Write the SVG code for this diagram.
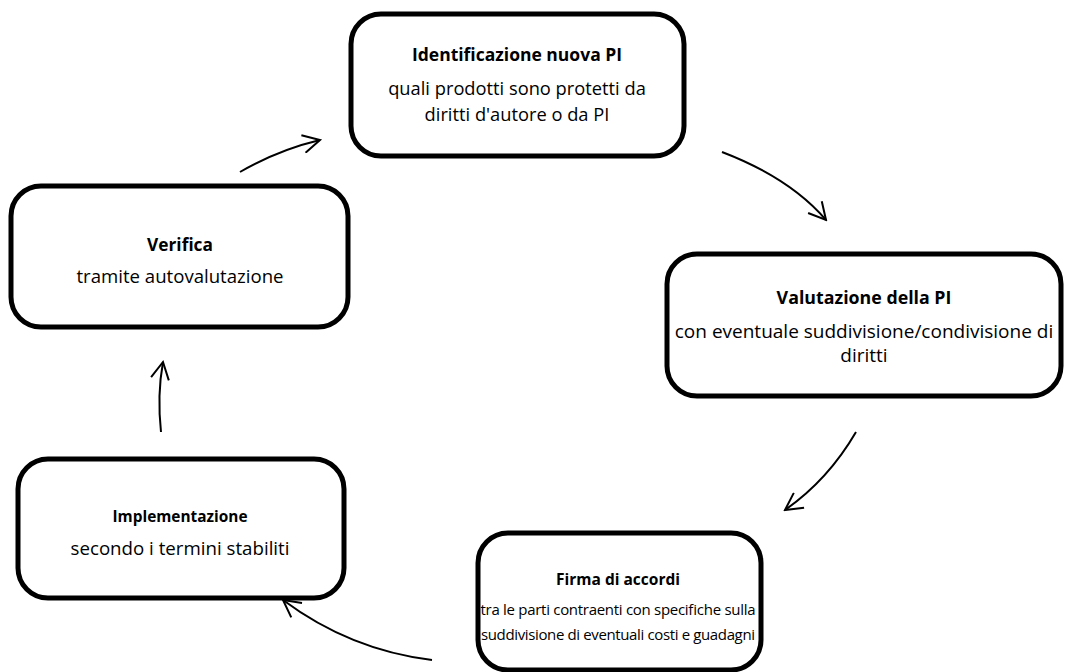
<svg xmlns="http://www.w3.org/2000/svg" width="1065" height="672" viewBox="0 0 1065 672">
<defs>
<style>
.box{fill:#fff;stroke:#000;stroke-width:5}
.t{font-family:"Open Sans",Lato,sans-serif;fill:#000;text-anchor:middle}
.b{font-weight:bold}
.c{fill:none;stroke:#000;stroke-width:2}
</style>
<marker id="ah" viewBox="0 0 20 20" refX="18" refY="10" markerWidth="20" markerHeight="20" markerUnits="userSpaceOnUse" orient="auto">
<path d="M1,1 L18,10 L1,19" fill="none" stroke="#000" stroke-width="2"/>
</marker>
</defs>
<rect width="1065" height="672" fill="#fff"/>
<g id="connectors">
<path class="c" d="M240,172 Q278,150 320,140" marker-end="url(#ah)"/>
<path class="c" d="M722,152 Q790,178 826,220" marker-end="url(#ah)"/>
<path class="c" d="M856,432 Q828,480 785,510" marker-end="url(#ah)"/>
<path class="c" d="M432,660 Q350,650 283,600" marker-end="url(#ah)"/>
<path class="c" d="M161,432 Q157,395 163,362" marker-end="url(#ah)"/>
</g>
<g id="node1">
<rect class="box" x="351" y="14" width="333" height="142" rx="30"/>
<text class="t b" x="517" y="61" font-size="17.5">Identificazione nuova PI</text>
<text class="t" x="517" y="95" font-size="18.3">quali prodotti sono protetti da</text>
<text class="t" x="517" y="121" font-size="18.3">diritti d'autore o da PI</text>
</g>
<g id="node2">
<rect class="box" x="667" y="254" width="394" height="142" rx="30"/>
<text class="t b" x="864" y="304" font-size="17.8">Valutazione della PI</text>
<text class="t" x="864" y="338" font-size="19">con eventuale suddivisione/condivisione di</text>
<text class="t" x="864" y="362" font-size="19">diritti</text>
</g>
<g id="node3">
<rect class="box" x="478" y="533" width="283" height="137" rx="30"/>
<text class="t b" x="618" y="585" font-size="15.5">Firma di accordi</text>
<text class="t" x="618" y="615" font-size="15" textLength="275">tra le parti contraenti con specifiche sulla</text>
<text class="t" x="618" y="640" font-size="15" textLength="274">suddivisione di eventuali costi e guadagni</text>
</g>
<g id="node4">
<rect class="box" x="11" y="186" width="337" height="141" rx="30"/>
<text class="t b" x="180" y="251" font-size="17.3">Verifica</text>
<text class="t" x="180" y="283" font-size="18.6">tramite autovalutazione</text>
</g>
<g id="node5">
<rect class="box" x="18" y="459" width="326" height="139" rx="30"/>
<text class="t b" x="180" y="522" font-size="15.4">Implementazione</text>
<text class="t" x="180" y="555" font-size="18.7">secondo i termini stabiliti</text>
</g>
</svg>
